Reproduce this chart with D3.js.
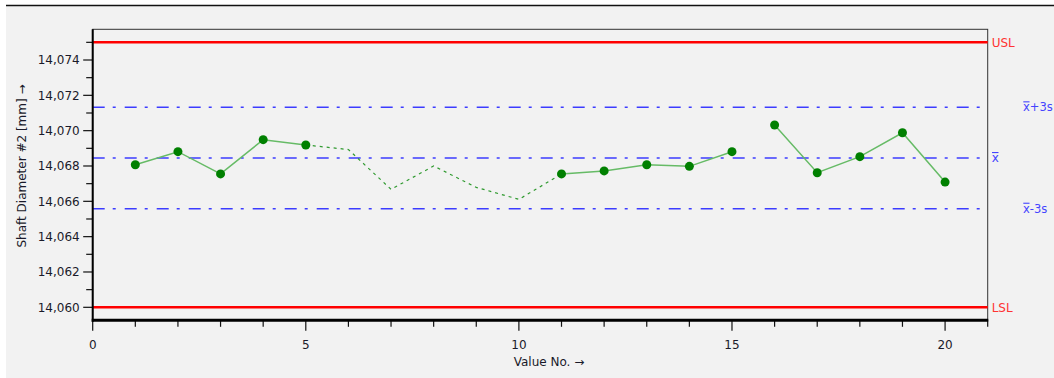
<!DOCTYPE html>
<html>
<head>
<meta charset="utf-8">
<script src="https://cdn.jsdelivr.net/npm/d3@7"></script>
<style>
  html, body { margin: 0; padding: 0; background: #fff; }
  svg { display: block; font-family: "DejaVu Sans", sans-serif; }
</style>
</head>
<body>
<div id="container"></div>
<script>
const width = 1054, height = 378;

// --- Data ---
const valueNo = d3.range(1, 21);
const values = [
  14.06807, 14.06881, 14.06755, 14.06949, 14.06919,
  14.06893, 14.06668, 14.06800, 14.06679, 14.06611,
  14.06755, 14.06772, 14.06807, 14.06798, 14.06881,
  14.07032, 14.06762, 14.06853, 14.06988, 14.06709
];
// value numbers left out of the evaluation (drawn dashed, no marker)
const excluded = [6, 7, 8, 9, 10];
// solid runs of the connected line
const solidRuns = [[1, 5], [11, 15], [16, 20]];
const dashedRun = [5, 11];

const usl = 14.075, lsl = 14.060;
const xbar = 14.06845, s3 = 0.00287;
const limits = [
  { label: "USL", value: usl, kind: "spec" },
  { label: "LSL", value: lsl, kind: "spec" },
  { label: "+3s", value: xbar + s3, kind: "ctl" },
  { label: "", value: xbar, kind: "ctl" },
  { label: "-3s", value: xbar - s3, kind: "ctl" }
];

const xDomain = [0, 21];
const yDomain = [14.059293, 14.075738];
const xMajor = [0, 5, 10, 15, 20];
const yMajor = [14.060, 14.062, 14.064, 14.066, 14.068, 14.070, 14.072, 14.074];

// --- Layout ---
const margin = { top: 29.3, right: 66.3, bottom: 58.2, left: 92.7 };
const iw = width - margin.left - margin.right;
const ih = height - margin.top - margin.bottom;

const svg = d3.select("#container").append("svg")
  .attr("width", width).attr("height", height);

// panel background + top rule
svg.append("rect").attr("x", 6).attr("y", 5).attr("width", width - 6).attr("height", height - 5)
  .attr("fill", "#f2f2f2");
svg.append("line").attr("x1", 6).attr("x2", width).attr("y1", 5.5).attr("y2", 5.5)
  .attr("stroke", "#111").attr("stroke-width", 1.5);

const g = svg.append("g").attr("transform", `translate(${margin.left},${margin.top})`);

const x = d3.scaleLinear().domain(xDomain).range([0, iw]);
const y = d3.scaleLinear().domain(yDomain).range([ih, 0]);

// plot frame (thin top/right)
g.append("rect").attr("x", 0).attr("y", 0).attr("width", iw).attr("height", ih)
  .attr("fill", "none").attr("stroke", "#333").attr("stroke-width", 1);

// --- limit lines ---
limits.forEach(l => {
  const yy = y(l.value);
  g.append("line")
    .attr("x1", 0).attr("x2", iw).attr("y1", yy).attr("y2", yy)
    .attr("stroke", l.kind === "spec" ? "#ff0000" : "#3c3cff")
    .attr("stroke-width", l.kind === "spec" ? 2.5 : 1.5)
    .attr("stroke-dasharray", l.kind === "spec" ? null : "12,8,3,9");
});

// limit labels at right
const labG = svg.append("g");
limits.forEach(l => {
  const yy = margin.top + y(l.value);
  if (l.kind === "spec") {
    labG.append("text").attr("x", margin.left + iw + 4).attr("y", yy).attr("dy", "0.36em")
      .attr("fill", "#ff3333").style("font-size", "12px").text(l.label);
  } else {
    const tx = l.label ? 1023 : margin.left + iw + 4;
    const t = labG.append("text").attr("x", tx).attr("y", yy).attr("dy", "0.36em")
      .attr("fill", "#4444ff").style("font-size", l.label ? "11.5px" : "12px");
    t.append("tspan").text("x");
    if (l.label) t.append("tspan").text(l.label);
    // overline over the x
    const ext = t.node().getExtentOfChar(0);
    labG.append("line")
      .attr("x1", ext.x + 0.3).attr("x2", ext.x + ext.width - 0.3)
      .attr("y1", yy - 5.5).attr("y2", yy - 5.5)
      .attr("stroke", "#4444ff").attr("stroke-width", 1.1);
  }
});

// --- data lines ---
const pts = valueNo.map((n, i) => ({ n, v: values[i] }));
const line = d3.line().x(d => x(d.n)).y(d => y(d.v));

g.append("path")
  .datum(pts.filter(d => d.n >= dashedRun[0] && d.n <= dashedRun[1]))
  .attr("d", line).attr("fill", "none")
  .attr("stroke", "#2f9a2f").attr("stroke-width", 1.2).attr("stroke-dasharray", "3,4");

solidRuns.forEach(([a, b]) => {
  g.append("path")
    .datum(pts.filter(d => d.n >= a && d.n <= b))
    .attr("d", line).attr("fill", "none")
    .attr("stroke", "#66bb66").attr("stroke-width", 1.5);
});

g.selectAll("circle.pt").data(pts.filter(d => !excluded.includes(d.n))).join("circle")
  .attr("class", "pt")
  .attr("cx", d => x(d.n)).attr("cy", d => y(d.v)).attr("r", 4.5)
  .attr("fill", "#008000");

// --- X axis ---
const xAx = g.append("g").attr("transform", `translate(0,${ih})`);
xAx.selectAll("line.tk").data(d3.range(0, 22)).join("line")
  .attr("class", "tk")
  .attr("x1", d => x(d)).attr("x2", d => x(d))
  .attr("y1", 0).attr("y2", d => xMajor.includes(d) ? 11 : 7)
  .attr("stroke", "#111").attr("stroke-width", 1.2);
xAx.append("line").attr("x1", -1).attr("x2", iw + 0.5).attr("y1", 0.5).attr("y2", 0.5)
  .attr("stroke", "#000").attr("stroke-width", 3);
xAx.selectAll("text").data(xMajor).join("text")
  .attr("x", d => x(d)).attr("y", 24.5).attr("dy", "0.36em")
  .attr("text-anchor", "middle").attr("fill", "#1a1a2a").style("font-size", "12px")
  .text(d => d);

// --- Y axis ---
const yAx = g.append("g");
const fmt = v => d3.format(".3f")(v).replace(".", ",");
yAx.selectAll("line.tk").data(d3.range(14060, 14076).map(v => v / 1000)).join("line")
  .attr("class", "tk")
  .attr("x1", d => yMajor.some(m => Math.abs(m - d) < 1e-7) ? -9.5 : -6.5).attr("x2", 0)
  .attr("y1", d => y(d)).attr("y2", d => y(d))
  .attr("stroke", "#111").attr("stroke-width", 1.2);
yAx.append("line").attr("x1", 0).attr("x2", 0).attr("y1", 0).attr("y2", ih + 2)
  .attr("stroke", "#000").attr("stroke-width", 2);
yAx.selectAll("text").data(yMajor).join("text")
  .attr("x", -13).attr("y", d => y(d)).attr("dy", "0.36em")
  .attr("text-anchor", "end").attr("fill", "#1a1a2a").style("font-size", "12px")
  .text(fmt);

// --- Axis titles ---
svg.append("text")
  .attr("x", 549).attr("y", 366).attr("text-anchor", "middle")
  .attr("fill", "#1a1a2a").style("font-size", "12px")
  .text("Value No. \u2192");
svg.append("text")
  .attr("transform", "translate(22,166) rotate(-90)")
  .attr("text-anchor", "middle").attr("dy", "0.36em")
  .attr("fill", "#1a1a2a").style("font-size", "12px")
  .text("Shaft Diameter #2 [mm] \u2192");
</script>
</body>
</html>
